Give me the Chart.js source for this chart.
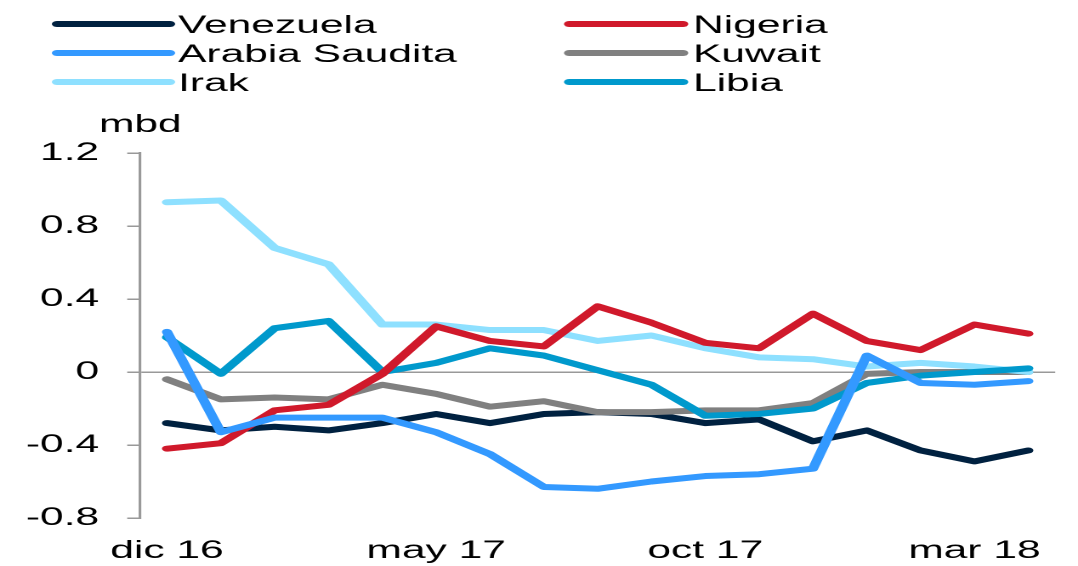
<!DOCTYPE html>
<html>
<head>
<meta charset="utf-8">
<script src="https://cdn.jsdelivr.net/npm/chart.js@4.4.1/dist/chart.umd.min.js"></script>
<style>
  html, body { margin: 0; padding: 0; background: #fff; overflow: hidden; }
  /* the original picture is stretched sideways, so the whole chart is too */
  #wrap { position: absolute; left: 0; top: 0; width: 634px; height: 566px; transform: scaleX(1.7003); transform-origin: 0 0; }
</style>
</head>
<body>
<div id="wrap"><canvas id="oilChart"></canvas></div>
<script>
const months = ['dic 16', 'ene 17', 'feb 17', 'mar 17', 'abr 17', 'may 17', 'jun 17', 'jul 17', 'ago 17',
    'sep 17', 'oct 17', 'nov 17', 'dic 17', 'ene 18', 'feb 18', 'mar 18', 'abr 18'];

const venezuela = [-0.28, -0.32, -0.30, -0.32, -0.28, -0.23, -0.28, -0.23, -0.22, -0.23, -0.28, -0.26, -0.38, -0.32, -0.43, -0.49, -0.43];
const nigeria = [-0.42, -0.39, -0.21, -0.18, -0.01, 0.25, 0.17, 0.14, 0.36, 0.27, 0.16, 0.13, 0.32, 0.17, 0.12, 0.26, 0.21];
const arabiaSaudita = [0.22, -0.33, -0.25, -0.25, -0.25, -0.33, -0.45, -0.63, -0.64, -0.60, -0.57, -0.56, -0.53, 0.09, -0.06, -0.07, -0.05];
const kuwait = [-0.04, -0.15, -0.14, -0.15, -0.07, -0.12, -0.19, -0.16, -0.22, -0.22, -0.21, -0.21, -0.17, -0.01, 0.0, 0.0, 0.0];
const irak = [0.93, 0.94, 0.68, 0.59, 0.26, 0.26, 0.23, 0.23, 0.17, 0.20, 0.13, 0.08, 0.07, 0.03, 0.05, 0.03, 0.0];
const libia = [0.19, -0.01, 0.24, 0.28, 0.0, 0.05, 0.13, 0.09, 0.01, -0.07, -0.24, -0.23, -0.20, -0.06, -0.02, 0.0, 0.02];

const yTicks = { min: -0.8, max: 1.2, step: 0.4 };
const unitLabel = 'mbd';

Chart.defaults.font.family = "'Liberation Sans', Arial, sans-serif";
Chart.defaults.color = '#000';

function series(label, data, color, order) {
    return {
        label: label,
        data: data,
        borderColor: color,
        backgroundColor: color,
        borderWidth: 6,
        borderCapStyle: 'round',
        borderJoinStyle: 'round',
        pointRadius: 0,
        fill: false,
        order: order,
    };
}

// legend drawn by hand: two fixed columns, three rows
const legendBoxes = {
    id: 'legendBoxes',
    afterDraw(chart) {
        const ctx = chart.ctx;
        const cols = [{ x0: 33.5, x1: 100, tx: 104.7 }, { x0: 334.7, x1: 401.8, tx: 407.6 }];
        const rows = [24, 53, 82];
        ctx.save();
        ctx.font = "25px 'Liberation Sans', Arial, sans-serif";
        ctx.fillStyle = '#000';
        ctx.textBaseline = 'alphabetic';
        chart.data.datasets.forEach((ds, i) => {
            const c = cols[i % 2];
            const y = rows[Math.floor(i / 2)];
            ctx.beginPath();
            ctx.lineCap = 'round';
            ctx.lineWidth = 6;
            ctx.strokeStyle = ds.borderColor;
            ctx.moveTo(c.x0, y);
            ctx.lineTo(c.x1, y);
            ctx.stroke();
            ctx.fillText(ds.label, c.tx, y + 9);
        });
        ctx.fillText(unitLabel, 58.2, 132);
        ctx.restore();
    },
};

new Chart(document.getElementById('oilChart'), {
    type: 'line',
    data: {
        labels: months,
        datasets: [
            series('Venezuela', venezuela, '#002140', 6),
            series('Nigeria', nigeria, '#D0192B', 2),
            series('Arabia Saudita', arabiaSaudita, '#3399FF', 1),
            series('Kuwait', kuwait, '#808080', 5),
            series('Irak', irak, '#8EE0FF', 4),
            series('Libia', libia, '#0099CC', 3),
        ],
    },
    plugins: [legendBoxes],
    options: {
        responsive: true,
        maintainAspectRatio: false,
        devicePixelRatio: 2,
        animation: false,
        layout: { padding: { top: 153, right: 13.4, bottom: 0, left: 0 } },
        plugins: { legend: { display: false }, tooltip: { enabled: false } },
        scales: {
            x: {
                offset: true,
                afterFit(scale) { scale.height = 48; },
                grid: { display: false },
                border: { display: false },
                ticks: {
                    autoSkip: false,
                    maxRotation: 0,
                    padding: 10,
                    font: { size: 25 },
                    callback(value, index) {
                        return index % 5 === 0 ? this.getLabelForValue(value) : '';
                    },
                },
            },
            y: {
                min: yTicks.min,
                max: yTicks.max,
                afterFit(scale) { scale.width = 82.4; },
                border: { display: true, color: '#999', width: 1.6 },
                grid: {
                    color: c => (Math.abs(c.tick.value) < 1e-9 ? '#999' : 'rgba(0,0,0,0)'),
                    lineWidth: 1.5,
                    tickColor: '#999',
                    tickWidth: 1.5,
                    tickLength: 7.6,
                },
                ticks: {
                    stepSize: yTicks.step,
                    padding: 16.5,
                    font: { size: 25 },
                    callback: v => (Math.abs(v) < 1e-9 ? '0' : v.toFixed(1)),
                },
            },
        },
    },
});
</script>
</body>
</html>
